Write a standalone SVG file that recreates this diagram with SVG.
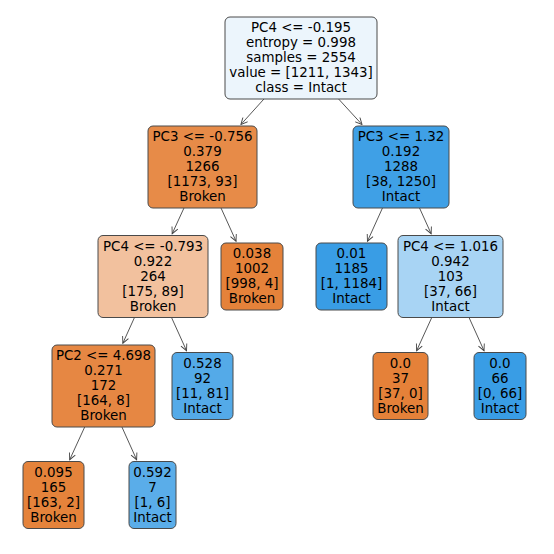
<svg xmlns="http://www.w3.org/2000/svg" width="554" height="554" viewBox="0 0 554 554">
<defs>
<style>
.box{stroke:#4a4a4a;stroke-width:1}
text{font-family:"DejaVu Sans","Liberation Sans",sans-serif;font-size:13.4px;fill:#000;text-anchor:middle}
.edge{stroke:#444;stroke-width:0.9;fill:none}
</style>
<marker id="ah" markerWidth="8" markerHeight="8" refX="6.5" refY="3.2" orient="auto-start-reverse" markerUnits="userSpaceOnUse" overflow="visible">
<path d="M0,0 L6.5,3.2 L0,6.4" fill="none" stroke="#444" stroke-width="0.9"/>
</marker>
</defs>
<rect width="554" height="554" fill="#fff"/>
<g id="connectors">
<line class="edge" x1="263.95" y1="99" x2="240.9" y2="124.5" marker-end="url(#ah)"/>
<line class="edge" x1="338.6" y1="99" x2="362.0" y2="124.5" marker-end="url(#ah)"/>
<line class="edge" x1="183.97" y1="208" x2="172.2" y2="233.7" marker-end="url(#ah)"/>
<line class="edge" x1="221.03" y1="208" x2="236.04" y2="241.2" marker-end="url(#ah)"/>
<line class="edge" x1="382.47" y1="208" x2="367.46" y2="241.2" marker-end="url(#ah)"/>
<line class="edge" x1="419.53" y1="208" x2="431.15" y2="233.7" marker-end="url(#ah)"/>
<line class="edge" x1="134.47" y1="317.5" x2="122.85" y2="343.2" marker-end="url(#ah)"/>
<line class="edge" x1="171.53" y1="317.5" x2="186.54" y2="350.7" marker-end="url(#ah)"/>
<line class="edge" x1="431.78" y1="317.5" x2="416.62" y2="350.7" marker-end="url(#ah)"/>
<line class="edge" x1="469.03" y1="317.5" x2="484.04" y2="350.7" marker-end="url(#ah)"/>
<line class="edge" x1="84.69" y1="427" x2="69.69" y2="459.7" marker-end="url(#ah)"/>
<line class="edge" x1="121.93" y1="427" x2="136.63" y2="459.7" marker-end="url(#ah)"/>
</g>
<g id="n0">
<rect class="box" x="225" y="17" width="152" height="82" rx="5" fill="#ecf5fc"/>
<text x="301" y="32">PC4 &lt;= -0.195</text>
<text x="301" y="47">entropy = 0.998</text>
<text x="301" y="62">samples = 2554</text>
<text x="301" y="77">value = [1211, 1343]</text>
<text x="301" y="92">class = Intact</text>
</g>
<g id="n1">
<rect class="box" x="148" y="126" width="109" height="82" rx="5" fill="#e78b48"/>
<text x="202.5" y="141">PC3 &lt;= -0.756</text>
<text x="202.5" y="156">0.379</text>
<text x="202.5" y="171">1266</text>
<text x="202.5" y="186">[1173, 93]</text>
<text x="202.5" y="201">Broken</text>
</g>
<g id="n2">
<rect class="box" x="353" y="126" width="96" height="82" rx="5" fill="#3fa0e6"/>
<text x="401" y="141">PC3 &lt;= 1.32</text>
<text x="401" y="156">0.192</text>
<text x="401" y="171">1288</text>
<text x="401" y="186">[38, 1250]</text>
<text x="401" y="201">Intact</text>
</g>
<g id="n3">
<rect class="box" x="98" y="235.5" width="110" height="82" rx="5" fill="#f2c19e"/>
<text x="153" y="250.5">PC4 &lt;= -0.793</text>
<text x="153" y="265.5">0.922</text>
<text x="153" y="280.5">264</text>
<text x="153" y="295.5">[175, 89]</text>
<text x="153" y="310.5">Broken</text>
</g>
<g id="n4">
<rect class="box" x="221" y="243" width="62" height="67" rx="5" fill="#e5823a"/>
<text x="252" y="258">0.038</text>
<text x="252" y="273">1002</text>
<text x="252" y="288">[998, 4]</text>
<text x="252" y="303">Broken</text>
</g>
<g id="n5">
<rect class="box" x="316" y="243" width="71" height="67" rx="5" fill="#399de5"/>
<text x="351.5" y="258">0.01</text>
<text x="351.5" y="273">1185</text>
<text x="351.5" y="288">[1, 1184]</text>
<text x="351.5" y="303">Intact</text>
</g>
<g id="n6">
<rect class="box" x="398" y="235.5" width="105" height="82" rx="5" fill="#a8d4f4"/>
<text x="450.5" y="250.5">PC4 &lt;= 1.016</text>
<text x="450.5" y="265.5">0.942</text>
<text x="450.5" y="280.5">103</text>
<text x="450.5" y="295.5">[37, 66]</text>
<text x="450.5" y="310.5">Intact</text>
</g>
<g id="n7">
<rect class="box" x="52" y="345" width="103" height="82" rx="5" fill="#e68743"/>
<text x="103.5" y="360">PC2 &lt;= 4.698</text>
<text x="103.5" y="375">0.271</text>
<text x="103.5" y="390">172</text>
<text x="103.5" y="405">[164, 8]</text>
<text x="103.5" y="420">Broken</text>
</g>
<g id="n8">
<rect class="box" x="172" y="352.5" width="61" height="67" rx="5" fill="#54aae8"/>
<text x="202.5" y="367.5">0.528</text>
<text x="202.5" y="382.5">92</text>
<text x="202.5" y="397.5">[11, 81]</text>
<text x="202.5" y="412.5">Intact</text>
</g>
<g id="n9">
<rect class="box" x="373" y="352.5" width="55" height="67" rx="5" fill="#e58139"/>
<text x="400.5" y="367.5">0.0</text>
<text x="400.5" y="382.5">37</text>
<text x="400.5" y="397.5">[37, 0]</text>
<text x="400.5" y="412.5">Broken</text>
</g>
<g id="n10">
<rect class="box" x="474" y="352.5" width="52" height="67" rx="5" fill="#399de5"/>
<text x="500" y="367.5">0.0</text>
<text x="500" y="382.5">66</text>
<text x="500" y="397.5">[0, 66]</text>
<text x="500" y="412.5">Intact</text>
</g>
<g id="n11">
<rect class="box" x="23" y="461.5" width="61" height="67" rx="5" fill="#e5833b"/>
<text x="53.5" y="476.5">0.095</text>
<text x="53.5" y="491.5">165</text>
<text x="53.5" y="506.5">[163, 2]</text>
<text x="53.5" y="521.5">Broken</text>
</g>
<g id="n12">
<rect class="box" x="129" y="461.5" width="47" height="67" rx="5" fill="#5aade9"/>
<text x="152.5" y="476.5">0.592</text>
<text x="152.5" y="491.5">7</text>
<text x="152.5" y="506.5">[1, 6]</text>
<text x="152.5" y="521.5">Intact</text>
</g>
</svg>
